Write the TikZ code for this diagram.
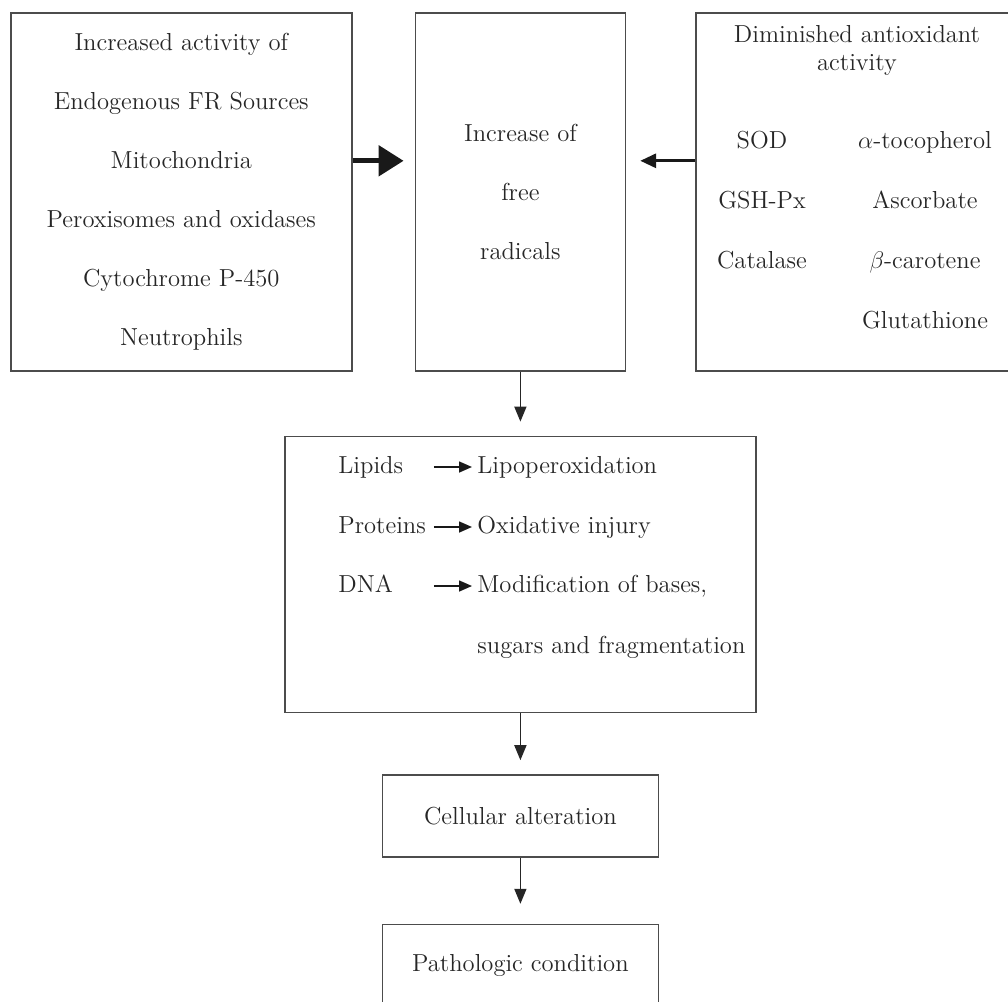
\documentclass[tikz,border=0pt]{standalone}
\usepackage{amsmath}
\usetikzlibrary{positioning,arrows.meta}

\tikzset{
  box/.style={draw=black!70, line width=0.8pt, inner sep=0pt, align=center,
    text=black!85, font=\fontsize{12.3}{29.5}\selectfont},
  txt/.style={inner sep=0pt, text=black!85, font=\fontsize{12.3}{14}\selectfont,
    text height=8pt, text depth=2pt},
  flow/.style={-{Triangle[length=7.5pt,width=6pt]}, line width=0.8pt, black!85, shorten >=7pt},
  feed/.style={-{Triangle[length=12.5pt,width=15pt]}, line width=2.6pt, black!90, shorten >=5.5pt},
  drain/.style={-{Triangle[length=8pt,width=7pt]}, line width=1.6pt, black!90, shorten >=7pt},
  yields/.style={-{Triangle[length=6.5pt,width=5.5pt]}, line width=0.8pt, black!90, shorten >=2.5pt}
}

\begin{document}
\begin{tikzpicture}[x=1pt, y=-1pt]
            \useasboundingbox (0,0) rectangle (504,501);
            \clip (0,0) rectangle (504,501);

            \node [box, anchor=north west, minimum width=170.5pt, minimum height=179pt] (src) at (5,6)
                {Increased activity of\\Endogenous FR Sources\\Mitochondria\\Peroxisomes and oxidases\\Cytochrome P-450\\Neutrophils};
            \node [box, right=31pt of src, minimum width=105pt, minimum height=179pt] (frb)
                {Increase of\\free\\radicals};
            \node [box, right=34.5pt of frb, minimum width=164pt, minimum height=179pt] (anti) {};
            \node [box, below=32pt of frb, minimum width=235.5pt, minimum height=138pt] (lip) {};
            \node [box, below=30.5pt of lip, minimum width=138pt, minimum height=41pt] (cell) {Cellular alteration};
            \node [box, below=33pt of cell, minimum width=138pt, minimum height=41pt] (patho) {Pathologic condition};

            % antioxidants
            \node [txt, anchor=base, align=center, font=\fontsize{12.3}{14}\selectfont] (antititle) at (428.5,35)
                {Diminished antioxidant\\activity};
            \node [txt, anchor=base] (sod) at (381,74) {SOD};
            \node [txt, anchor=base] (gshpx) at (381,104) {GSH-Px};
            \node [txt, anchor=base] (catalase) at (381,134) {Catalase};
            \node [txt, anchor=base] (toco) at (462.5,74) {$\alpha$-tocopherol};
            \node [txt, anchor=base] (ascorb) at (462.5,104) {Ascorbate};
            \node [txt, anchor=base] (carot) at (462.5,134) {$\beta$-carotene};
            \node [txt, anchor=base] (glut) at (462.5,164) {Glutathione};

            % targets
            \node [txt, anchor=west, text width=47.5pt, align=left] (lipids) at (169,233.5) {Lipids};
            \node [txt, anchor=west, text width=47.5pt, align=left] (proteins) at (169,263.5) {Proteins};
            \node [txt, anchor=west, text width=47.5pt, align=left] (dna) at (169,293) {DNA};
            \node [txt, anchor=west] (lipoperox) at (238.5,233.5) {Lipoperoxidation};
            \node [txt, anchor=west] (oxinj) at (238.5,263.5) {Oxidative injury};
            \node [txt, anchor=west] (modbase) at (238.5,293) {Modification of bases,};
            \node [txt, anchor=west] (sugars) at (238.5,323.5) {sugars and fragmentation};

            \draw [yields] (lipids.east) -- (lipoperox.west);
            \draw [yields] (proteins.east) -- (oxinj.west);
            \draw [yields] (dna.east) -- (modbase.west);

            \draw [feed] ([yshift=15.5pt]src.east) -- ([yshift=15.5pt]frb.west);
            \draw [drain] ([yshift=15.5pt]anti.west) -- ([yshift=15.5pt]frb.east);

            \draw [flow] (frb) -- (lip);
            \draw [flow] (lip) -- (cell);
            \draw [flow, shorten >=10pt] (cell) -- (patho);
        \end{tikzpicture}
\end{document}
